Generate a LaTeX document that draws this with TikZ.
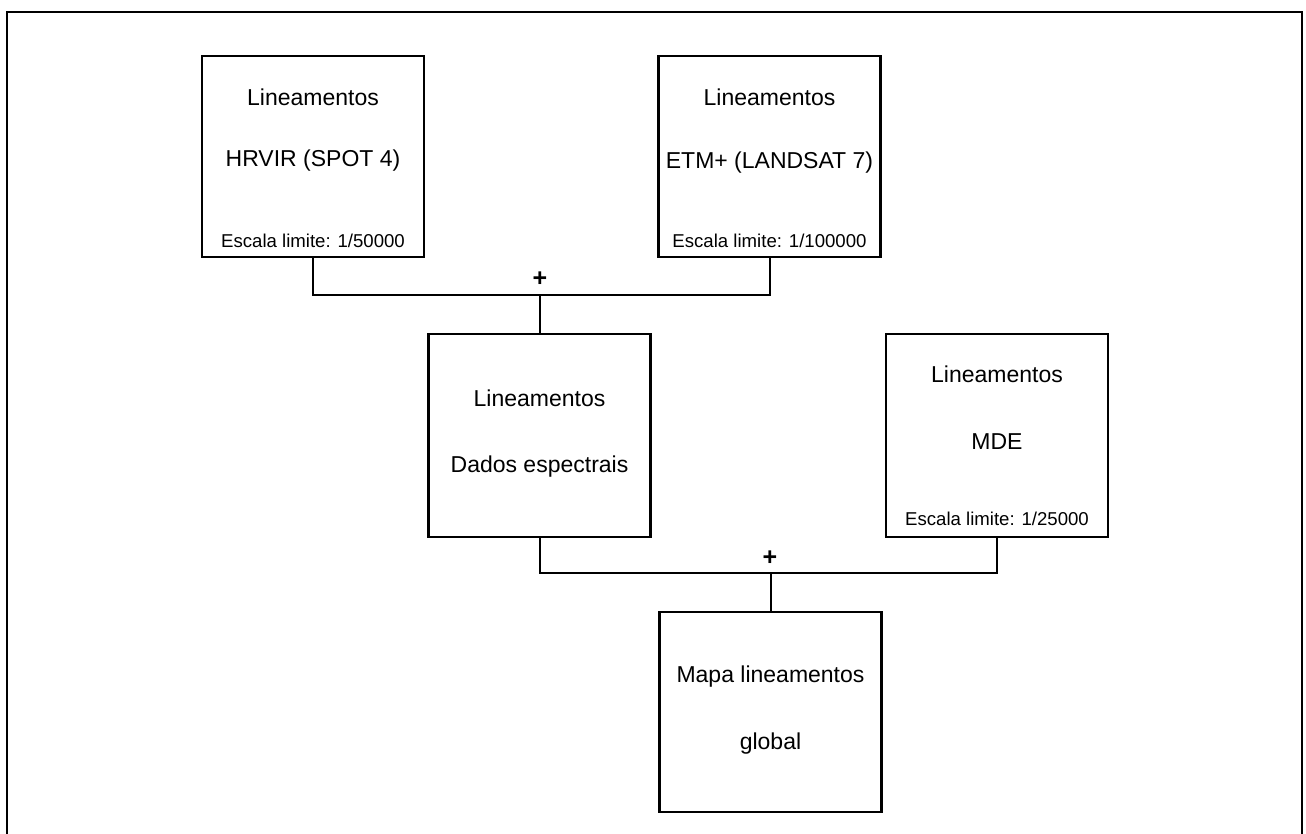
\documentclass[tikz,border=0pt]{standalone}
\usepackage{fontspec}
\setmainfont{Liberation Sans}

\tikzset{every picture/.style={line width=2pt}}
\tikzset{
  linbox/.style={draw, line width=2.3pt, inner sep=0pt, minimum width=222pt, minimum height=201pt},
  lintext/.style={inner sep=0.75pt, font=\fontsize{23}{26}\selectfont},
  esctext/.style={inner sep=0.75pt, font=\fontsize{18.6}{21}\selectfont},
  plustext/.style={inner sep=0.75pt, font=\bfseries\fontsize{25}{27}\selectfont}
}

\begin{document}
\begin{tikzpicture}[x=1pt,y=1pt,yscale=-1,xscale=1]
\useasboundingbox (0,0) rectangle (1306,834);

%Outer frame
\draw [line width=2.7pt] (7,834) -- (7,12) -- (1302,12) -- (1302,834) ;

%Boxes
\node [linbox] (hrvir) at (313,156.5) {};
\node [linbox] (etm) at (769.5,156.5) {};
\node [linbox, minimum height=203pt] (dados) at (539.5,435.5) {};
\node [linbox, minimum height=203pt] (mde) at (997,435.5) {};
\node [linbox, minimum height=200pt] (mapa) at (770.5,712) {};

% Text Node
\node [lintext] (hrvirA) at (313,97) {Lineamentos};
\node [lintext] (hrvirB) at (313,161) {HRVIR (SPOT 4)};
\node [esctext] (hrvirC) at (313,241) {Escala limite: 1/50000};
% Text Node
\node [lintext] (etmA) at (769.5,97) {Lineamentos};
\node [lintext] (etmB) at (769.5,163) {ETM+ (LANDSAT 7)};
\node [esctext] (etmC) at (769.5,241) {Escala limite: 1/100000};
% Text Node
\node [lintext] (dadosA) at (539.5,398) {Lineamentos};
\node [lintext] (dadosB) at (539.5,467) {Dados espectrais};
% Text Node
\node [lintext] (mdeA) at (997,374) {Lineamentos};
\node [lintext] (mdeB) at (997,442) {MDE};
\node [esctext] (mdeC) at (997,519) {Escala limite: 1/25000};
% Text Node
\node [lintext] (mapaA) at (770.5,677) {Mapa lineamentos};
\node [lintext] (mapaB) at (770.5,744) {global};

%Connectors
\coordinate (jA) at (dados.north |- 0,295);
\coordinate (jB) at (mapa.north |- 0,573);
\draw (hrvir.south) |- (jA) -| (etm.south) ;
\draw (jA) -- (dados.north) ;
\draw (dados.south) |- (jB) -| (mde.south) ;
\draw (jB) -- (mapa.north) ;

% Plus signs
\node [plustext] (plusA) at (540,279) {+};
\node [plustext] (plusB) at (770,558) {+};

\end{tikzpicture}
\end{document}
